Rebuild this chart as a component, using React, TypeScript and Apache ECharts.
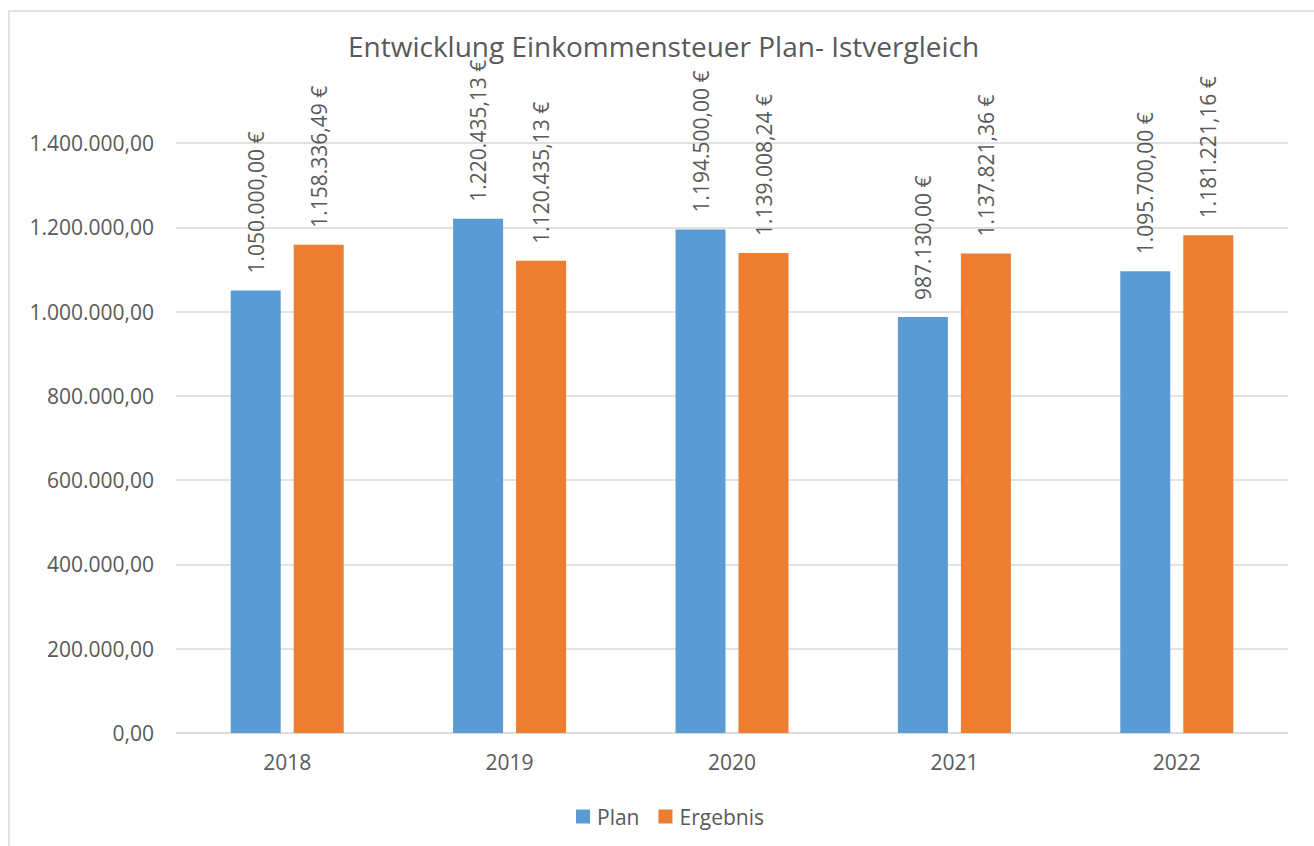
import React, { useEffect, useRef } from "react";
import * as echarts from "echarts";

const categories = ["2018", "2019", "2020", "2021", "2022"];
const planValues = [1050000.0, 1220435.13, 1194500.0, 987130.0, 1095700.0];
const ergebnisValues = [1158336.49, 1120435.13, 1139008.24, 1137821.36, 1181221.16];
const seriesNames = ["Plan", "Ergebnis"];
const titleText = "Entwicklung Einkommensteuer Plan- Istvergleich";

const FONT = "'Open Sans', 'Liberation Sans', sans-serif";
const TEXT = "#595959";

function fmtDe(n: number): string {
  const neg = n < 0;
  const fixed = Math.abs(n).toFixed(2);
  const [intPart, dec] = fixed.split(".");
  const withDots = intPart.replace(/\B(?=(\d{3})+(?!\d))/g, ".");
  return (neg ? "-" : "") + withDots + "," + dec;
}

export default function App() {
  const ref = useRef<HTMLDivElement>(null);
  useEffect(() => {
    if (!ref.current) return;
    const chart = echarts.init(ref.current, undefined, { renderer: "svg" });
    const labelCfg = {
      show: true,
      position: "top" as const,
      rotate: 90,
      align: "left" as const,
      verticalAlign: "middle" as const,
      distance: 17,
      color: TEXT,
      fontSize: 21,
      fontFamily: FONT,
      formatter: (p: any) => fmtDe(p.value) + " €",
    };
    chart.setOption({
      animation: false,
      backgroundColor: "#ffffff",
      textStyle: { fontFamily: FONT },
      title: {
        text: titleText,
        left: 343,
        top: 27,
        textStyle: { fontSize: 28, fontWeight: "normal", color: TEXT, fontFamily: FONT },
      },
      graphic: [
        {
          type: "rect",
          shape: { x: 9, y: 11, width: 1330, height: 860 },
          style: { fill: "none", stroke: "#D9D9D9", lineWidth: 1.5 },
          silent: true,
          z: -1,
        },
      ],
      legend: {
        data: seriesNames,
        left: 571,
        top: 801,
        itemWidth: 14,
        itemHeight: 14,
        itemGap: 19,
        icon: "rect",
        textStyle: { fontSize: 21, color: TEXT, fontFamily: FONT, padding: [0, 0, 0, 2] },
      },
      grid: { left: 176, right: 26, top: 143, bottom: 113, containLabel: false },
      xAxis: {
        type: "category",
        data: categories,
        axisLine: { show: true, lineStyle: { color: "#D9D9D9", width: 1.5 } },
        axisTick: { show: false },
        axisLabel: { color: TEXT, fontSize: 21, fontFamily: FONT, margin: 18 },
      },
      yAxis: {
        type: "value",
        min: 0,
        max: 1400000,
        interval: 200000,
        axisLine: { show: false },
        axisTick: { show: false },
        splitLine: { lineStyle: { color: "#D9D9D9", width: 1.5 } },
        axisLabel: {
          color: TEXT,
          fontSize: 21,
          fontFamily: FONT,
          margin: 22,
          formatter: (v: number) => fmtDe(v),
        },
      },
      series: [
        {
          name: seriesNames[0],
          type: "bar",
          data: planValues,
          barWidth: 50,
          barGap: "26%",
          itemStyle: { color: "#5B9BD5" },
          label: labelCfg,
        },
        {
          name: seriesNames[1],
          type: "bar",
          data: ergebnisValues,
          barWidth: 50,
          barGap: "26%",
          itemStyle: { color: "#ED7D31" },
          label: labelCfg,
        },
      ],
    });
    return () => chart.dispose();
  }, []);
  return (
    <div
      ref={ref}
      style={{ position: "fixed", left: 0, top: 0, width: 1314, height: 846 }}
    />
  );
}
